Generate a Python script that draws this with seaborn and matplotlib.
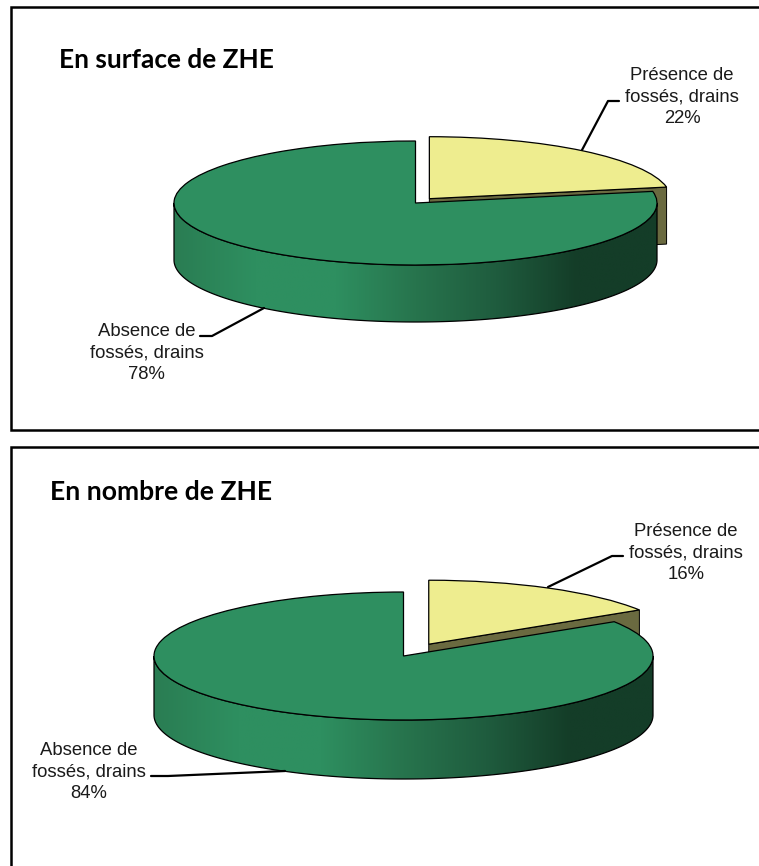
import numpy as np
import matplotlib
matplotlib.use("Agg")
import matplotlib.pyplot as plt
from matplotlib.patches import Polygon
import seaborn as sns

# valeurs
titres = ["En surface de ZHE", "En nombre de ZHE"]
presence = [22, 16]
absence = [78, 84]
label_presence = "Présence de\nfossés, drains"
label_absence = "Absence de\nfossés, drains"

W, H = 759, 866
VERT = "#2e8f60"
JAUNE = "#eeed8f"
OLIVE = "#6a6a40"

sns.set_theme(style="white")
plt.rcParams["font.family"] = ["Liberation Sans", "DejaVu Sans"]
degrade = sns.blend_palette(["#2a7d53", "#2e8f60", "#2e8f60", "#27744d", "#1f5c3e",
                             "#143d28", "#143d28"], n_colors=256, as_cmap=True)

fig = plt.figure(figsize=(W / 100, H / 100), dpi=100, facecolor="white")


def camembert(p, a, cx, cy, rx, ry, prof, explode):
    ax = fig.add_axes([0, 0, 1, 1], zorder=1)
    ax.patch.set_alpha(0)
    wedges, _ = ax.pie([p, a], startangle=90, counterclock=False, explode=[explode, 0],
                       colors=[JAUNE, VERT], wedgeprops=dict(edgecolor="black", linewidth=0.9))
    wedges[0].set_zorder(3)
    wedges[1].set_zorder(5)
    ax.set_aspect("auto")
    d = prof / ry

    # face coupee de la part jaune
    ang = 2 * np.pi * p / (p + a)
    ox, oy = explode * np.sin(ang / 2), explode * np.cos(ang / 2)
    bx, by = ox + np.sin(ang), oy + np.cos(ang)
    ax.add_patch(Polygon([(ox, oy), (bx, by), (bx, by - d), (ox, oy - d)], closed=True,
                         facecolor=OLIVE, edgecolor="black", linewidth=0.7, zorder=2))

    # flanc avant de la part verte, avec degrade
    t = np.linspace(np.pi / 2, 3 * np.pi / 2, 200)
    xs = np.sin(t)
    ys = np.cos(t)
    flanc = np.r_[np.c_[xs, ys], np.c_[xs[::-1], ys[::-1] - d]]
    contour = Polygon(flanc, closed=True, facecolor="none", edgecolor="black", linewidth=0.9, zorder=4.5)
    ax.add_patch(contour)
    im = ax.imshow(np.linspace(0, 1, 256)[None, :], extent=[-1, 1, -1 - d, 1], aspect="auto",
                   cmap=degrade, zorder=4)
    im.set_clip_path(contour)

    ax.set_xlim(-cx / rx, (W - cx) / rx)
    ax.set_ylim((cy - H) / ry, cy / ry)
    ax.set_axis_off()


camembert(presence[0], absence[0], 415.5, 203, 241.5, 62, 57, 0.09)
camembert(presence[1], absence[1], 403.5, 656, 249.5, 64, 59, 0.21)

# calque en pixels pour cadres, titres, etiquettes
top = fig.add_axes([0, 0, 1, 1], zorder=10)
top.patch.set_alpha(0)
top.set_xlim(0, W)
top.set_ylim(H, 0)
top.set_axis_off()

# les cadres sortent de l'image a droite
top.plot([W + 5, 11, 11, W + 5], [6.5, 6.5, 430, 430], color="black", linewidth=1.8,
         solid_joinstyle="miter")
top.plot([W + 5, 11, 11], [447, 447, H + 5], color="black", linewidth=1.8, solid_joinstyle="miter")

top.text(59, 60.5, titres[0], fontsize=18.9, fontweight="bold", family=["Lato", "DejaVu Sans"],
         color="black", va="center", ha="left")
top.text(50.5, 492.5, titres[1], fontsize=19.1, fontweight="bold", family=["Lato", "DejaVu Sans"],
         color="black", va="center", ha="left")

etiquettes = [
    (682, 97, label_presence, presence[0]),
    (146.5, 353, label_absence, absence[0]),
    (686, 553, label_presence, presence[1]),
    (89, 772, label_absence, absence[1]),
]
for x, y, nom, val in etiquettes:
    top.text(x, y, f"{nom}\n{val}%", fontsize=13.3, color="#1a1a1a", ha="center", va="center",
             linespacing=1.38)

traits = [
    ([582, 608, 619], [150, 101, 101]),
    ([200, 212, 264], [336, 336, 308]),
    ([548, 612, 623], [587, 556, 556]),
    ([151, 168, 285], [776, 776, 771]),
]
for xs, ys in traits:
    top.plot(xs, ys, color="black", linewidth=1.6, solid_joinstyle="round")

top.set_xlim(0, W)
top.set_ylim(H, 0)
fig.savefig("out.png", dpi=100)
